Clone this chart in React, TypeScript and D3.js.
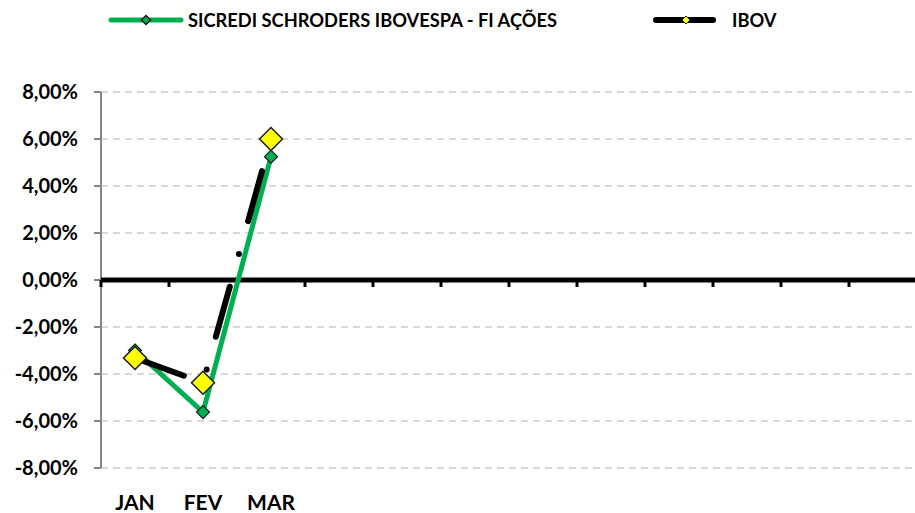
import React, { useEffect, useRef } from 'react';
import * as d3 from 'd3';

const months = ['JAN', 'FEV', 'MAR', '', '', '', '', '', '', '', '', ''];
const fundValues = [-0.030, -0.0562, 0.0525];
const ibovValues = [-0.0332, -0.0437, 0.0600];
const yTicks = [-0.08, -0.06, -0.04, -0.02, 0, 0.02, 0.04, 0.06, 0.08];
const fundName = 'SICREDI SCHRODERS IBOVESPA - FI AÇÕES';
const ibovName = 'IBOV';

const FONT = 'Lato, "Open Sans", sans-serif';
const GREEN = '#00B050';

export default function App() {
  const ref = useRef<SVGSVGElement>(null);

  useEffect(() => {
    const svg = d3.select(ref.current);
    svg.selectAll('*').remove();

    const x = d3.scaleBand<number>()
      .domain(months.map((_, i) => i))
      .range([101, 917]);
    const y = d3.scaleLinear().domain([-0.08, 0.08]).range([468, 92]);
    const cx = (i: number) => (x(i) as number) + x.bandwidth() / 2;

    // gridlines
    svg.append('g')
      .selectAll('line')
      .data(yTicks.filter(t => t !== 0))
      .join('line')
      .attr('x1', 101).attr('x2', 917)
      .attr('y1', d => y(d)).attr('y2', d => y(d))
      .attr('stroke', '#D9D9D9')
      .attr('stroke-width', 2)
      .attr('stroke-dasharray', '7 5');

    // y axis
    const yAxis = svg.append('g');
    yAxis.append('line')
      .attr('x1', 101).attr('x2', 101)
      .attr('y1', y(0.08)).attr('y2', y(-0.08))
      .attr('stroke', '#868686').attr('stroke-width', 2);
    yAxis.selectAll('line.tick')
      .data(yTicks)
      .join('line')
      .attr('class', 'tick')
      .attr('x1', 94).attr('x2', 101)
      .attr('y1', d => y(d)).attr('y2', d => y(d))
      .attr('stroke', '#868686').attr('stroke-width', 2);
    yAxis.selectAll('text')
      .data(yTicks)
      .join('text')
      .attr('x', 78)
      .attr('y', d => y(d))
      .attr('dy', '0.36em')
      .attr('text-anchor', 'end')
      .attr('font-family', FONT)
      .attr('font-weight', 700)
      .attr('font-size', 20)
      .attr('fill', '#000')
      .text(d => (d * 100).toFixed(2).replace('.', ',') + '%');

    // zero axis with ticks at band boundaries
    const xAxis = svg.append('g');
    const bounds = months.map((_, i) => x(i) as number).concat([917]);
    xAxis.selectAll('line.tick')
      .data(bounds)
      .join('line')
      .attr('class', 'tick')
      .attr('x1', d => d).attr('x2', d => d)
      .attr('y1', y(0)).attr('y2', y(0) + 7)
      .attr('stroke', '#000').attr('stroke-width', 3);
    xAxis.append('line')
      .attr('x1', 101).attr('x2', 917)
      .attr('y1', y(0)).attr('y2', y(0))
      .attr('stroke', '#000').attr('stroke-width', 5);
    xAxis.selectAll('text')
      .data(months)
      .join('text')
      .attr('x', (_, i) => cx(i))
      .attr('y', 510)
      .attr('text-anchor', 'middle')
      .attr('font-family', FONT)
      .attr('font-weight', 700)
      .attr('font-size', 21)
      .text(d => d);

    const line = d3.line<number>()
      .x((_, i) => cx(i))
      .y(d => y(d));

    // fund series
    svg.append('path')
      .attr('d', line(fundValues))
      .attr('fill', 'none')
      .attr('stroke', GREEN)
      .attr('stroke-width', 5)
      .attr('stroke-linejoin', 'round');

    // ibov series (long dash dot)
    svg.append('path')
      .attr('d', line(ibovValues))
      .attr('fill', 'none')
      .attr('stroke', '#000')
      .attr('stroke-width', 6)
      .attr('stroke-linecap', 'round')
      .attr('stroke-dasharray', '52 34 0 34');

    const diamond = (s: number) => `M0,${-s}L${s},0L0,${s}L${-s},0Z`;

    svg.append('g')
      .selectAll('path')
      .data(fundValues)
      .join('path')
      .attr('transform', (d, i) => `translate(${cx(i)},${y(d)})`)
      .attr('d', diamond(6.5))
      .attr('fill', GREEN)
      .attr('stroke', '#1a1a1a')
      .attr('stroke-width', 1.2);

    svg.append('g')
      .selectAll('path')
      .data(ibovValues)
      .join('path')
      .attr('transform', (d, i) => `translate(${cx(i)},${y(d)})`)
      .attr('d', diamond(11.5))
      .attr('fill', '#FFFF00')
      .attr('stroke', '#1a1a1a')
      .attr('stroke-width', 1.5);

    // legend
    const lg = svg.append('g');
    lg.append('line')
      .attr('x1', 111).attr('x2', 181).attr('y1', 20).attr('y2', 20)
      .attr('stroke', GREEN).attr('stroke-width', 5).attr('stroke-linecap', 'round');
    lg.append('path')
      .attr('transform', 'translate(146,20)')
      .attr('d', diamond(4.5))
      .attr('fill', GREEN).attr('stroke', '#1a1a1a').attr('stroke-width', 1.5);
    lg.append('text')
      .attr('x', 188).attr('y', 20).attr('dy', '0.36em')
      .attr('font-family', FONT).attr('font-weight', 700).attr('font-size', 18.3)
      .text(fundName);
    lg.append('line')
      .attr('x1', 656).attr('x2', 713).attr('y1', 20).attr('y2', 20)
      .attr('stroke', '#000').attr('stroke-width', 6).attr('stroke-linecap', 'round');
    lg.append('path')
      .attr('transform', 'translate(686,20)')
      .attr('d', diamond(4))
      .attr('fill', '#FFFF00').attr('stroke', '#1a1a1a').attr('stroke-width', 1);
    lg.append('text')
      .attr('x', 732).attr('y', 20).attr('dy', '0.36em')
      .attr('font-family', FONT).attr('font-weight', 700).attr('font-size', 18.3)
      .text(ibovName);
  }, []);

  return (
    <svg
      ref={ref}
      width={915}
      height={513}
      style={{ position: 'absolute', left: 0, top: 0, background: '#fff' }}
    />
  );
}
